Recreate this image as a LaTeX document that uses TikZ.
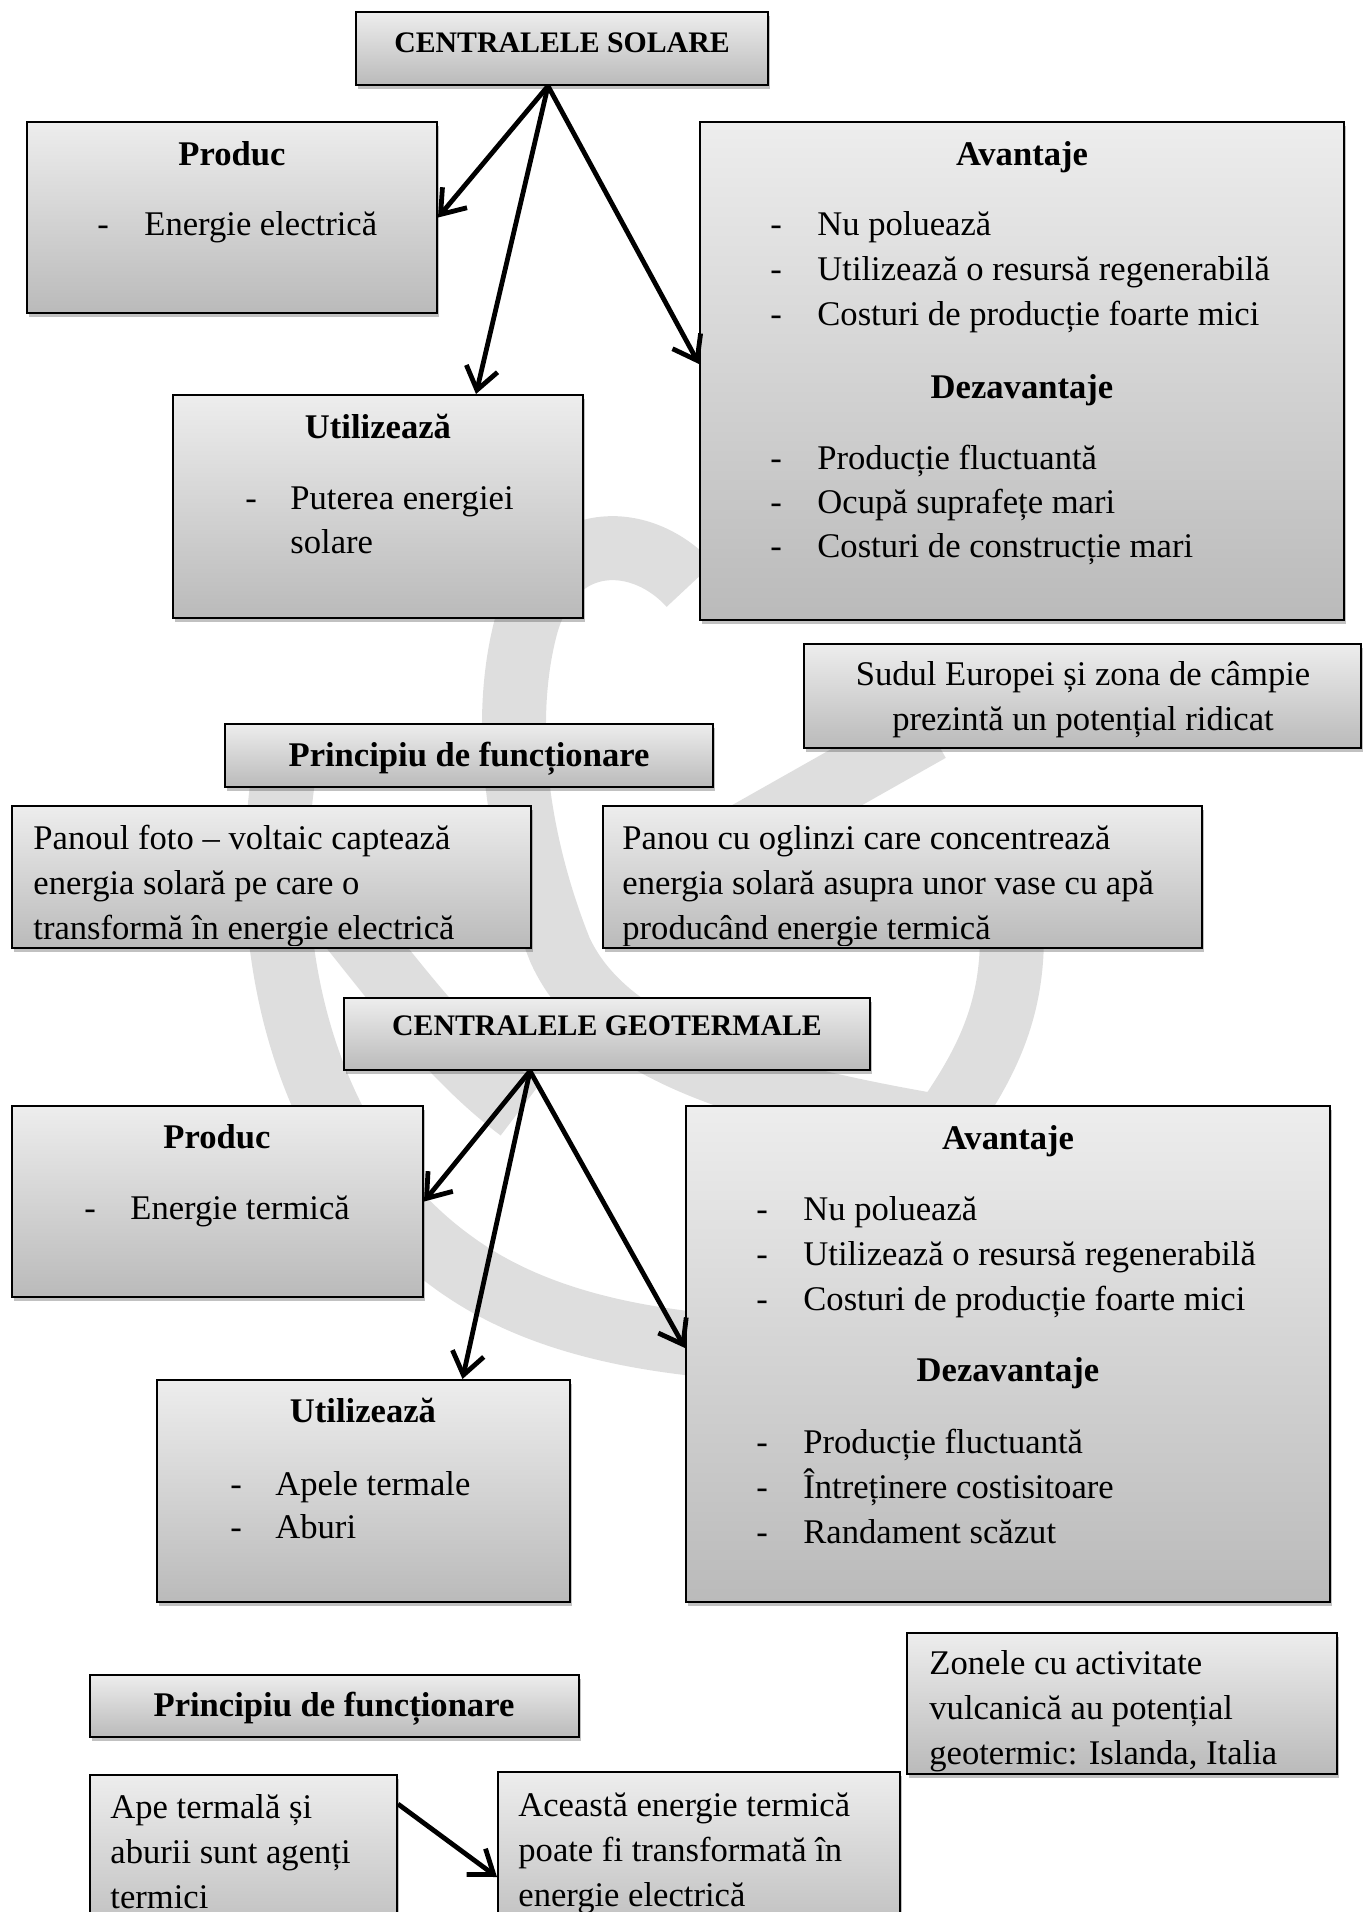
\documentclass[tikz,border=0pt]{standalone}
\usepackage{fontspec}
\setmainfont{Liberation Serif}
\usetikzlibrary{arrows.meta,positioning,fit,calc,shadows}
\definecolor{wmGrey}{HTML}{DEDEDE}

\tikzset{
  panel/.style={draw=black, line width=1pt, inner sep=0pt,
    top color=black!7, bottom color=black!27,
    drop shadow={shadow xshift=1.2pt, shadow yshift=-1.8pt, opacity=0.35, fill=black!70}},
  bigtitle/.style={font=\fontsize{14.9}{18}\selectfont\bfseries, anchor=mid, inner sep=0pt, yshift=-1pt},
  head/.style={font=\fontsize{17.3}{21}\selectfont\bfseries, anchor=mid, inner sep=0pt, yshift=-2pt},
  txt/.style={font=\fontsize{17.3}{21}\selectfont, anchor=mid west, inner sep=0pt, yshift=-2pt},
  ctxt/.style={txt, anchor=mid},
  link/.style={line width=2.4pt, -{Straight Barb[length=11pt,width=16pt]}},
}

\begin{document}
\begin{tikzpicture}[x=0.5pt,y=-0.5pt]
\useasboundingbox (0,0) rectangle (1371,1912);

% watermark behind everything
\begin{scope}[wmGrey, line width=32pt]
\draw (690,585) .. controls (640,530) and (550,530) .. (525,630)
      .. controls (500,730) and (520,850) .. (560,950)
      .. controls (610,1060) and (780,1100) .. (960,1130);
\draw (290,740) .. controls (250,930) and (300,1150) .. (450,1260)
      .. controls (530,1320) and (640,1345) .. (780,1350);
\draw (700,860) -- (930,730);
\draw (1010,900) .. controls (1020,1000) and (990,1060) .. (940,1130);
\draw (320,890) .. controls (380,960) and (440,1050) .. (520,1110);
\end{scope}

% --- centralele solare
\node[panel, fit={(356,12) (768,85)}] (solS) {};
\node[panel, fit={(27,122) (437,313)}] (prodS) {};
\node[panel, fit={(700,122) (1344,620)}] (avS) {};
\node[panel, fit={(173,395) (583,618)}] (utilS) {};
\node[panel, fit={(804,644) (1361,748)}] (sudS) {};
\node[panel, fit={(225,724) (713,787)}] (prinS) {};
\node[panel, fit={(12,806) (531,948)}] (fotoS) {};
\node[panel, fit={(603,806) (1202,948)}] (oglS) {};

\node[bigtitle] (solSt) at (562,46) {CENTRALELE SOLARE};
\node[head] (prodSh) at (232,157) {Produc};
\node[txt] (prodSd) at (97,227) {-};
\node[txt] (prodSa) at (144,227) {Energie electrică};

\node[head] (avSh) at (1022,157) {Avantaje};
\foreach \t [count=\i] in {Nu poluează, Utilizează o resursă regenerabilă, Costuri de producție foarte mici} {
  \node[txt] (avSd\i) at (770,182+45*\i) {-};
  \node[txt] (avSa\i) at (817,182+45*\i) {\t};
}
\node[head] (dzSh) at (1022,390) {Dezavantaje};
\foreach \t [count=\i] in {Producție fluctuantă, Ocupă suprafețe mari, Costuri de construcție mari} {
  \node[txt] (dzSd\i) at (770,417+44*\i) {-};
  \node[txt] (dzSa\i) at (817,417+44*\i) {\t};
}

\node[head] (utilSh) at (378,430) {Utilizează};
\node[txt] (utilSd) at (245,501) {-};
\node[txt] (utilSa) at (290,501) {Puterea energiei};
\node[txt] (utilSb) at (290,545) {solare};

\node[ctxt] (sudSa) at (1083,677) {Sudul Europei și zona de câmpie};
\node[ctxt] (sudSb) at (1083,722) {prezintă un potențial ridicat};

\node[head] (prinSh) at (469,758) {Principiu de funcționare};

\begin{scope}
\clip (fotoS.north west) rectangle ($(fotoS.south east)+(0,-4)$);
\foreach \t [count=\i] in {Panoul foto – voltaic captează, energia solară pe care o, transformă în energie electrică}
  \node[txt] (fotoS\i) at (33,796+45*\i) {\t};
\end{scope}
\begin{scope}
\clip (oglS.north west) rectangle ($(oglS.south east)+(0,-4)$);
\foreach \t [count=\i] in {Panou cu oglinzi care concentrează, energia solară asupra unor vase cu apă, producând energie termică}
  \node[txt] (oglS\i) at (622,796+45*\i) {\t};
\end{scope}

\draw[link] ($(solS.south)+(-14,0)$) -- (prodS.east);
\draw[link] ($(solS.south)+(-14,0)$) -- ($(utilS.north)+(98,0)$);
\draw[link] ($(solS.south)+(-14,0)$) -- ($(avS.west)+(0,-7)$);

% --- centralele geotermale
\node[panel, fit={(344,998) (870,1070)}] (geoT) {};
\node[panel, fit={(12,1106) (423,1297)}] (prodG) {};
\node[panel, fit={(686,1106) (1330,1602)}] (avG) {};
\node[panel, fit={(157,1380) (570,1602)}] (utilG) {};
\node[panel, fit={(907,1633) (1337,1774)}] (zonG) {};
\node[panel, fit={(90,1675) (579,1737)}] (prinG) {};
\node[panel, fit={(90,1775) (397,1950)}] (apeG) {};
\node[panel, fit={(498,1772) (900,1950)}] (aceG) {};

\node[bigtitle] (geoTt) at (607,1029) {CENTRALELE GEOTERMALE};
\node[head] (prodGh) at (217,1140) {Produc};
\node[txt] (prodGd) at (84,1211) {-};
\node[txt] (prodGa) at (130,1211) {Energie termică};

\node[head] (avGh) at (1008,1141) {Avantaje};
\foreach \t [count=\i] in {Nu poluează, Utilizează o resursă regenerabilă, Costuri de producție foarte mici} {
  \node[txt] (avGd\i) at (756,1167+45*\i) {-};
  \node[txt] (avGa\i) at (803,1167+45*\i) {\t};
}
\node[head] (dzGh) at (1008,1373) {Dezavantaje};
\foreach \t [count=\i] in {Producție fluctuantă, Întreținere costisitoare, Randament scăzut} {
  \node[txt] (dzGd\i) at (756,1400+45*\i) {-};
  \node[txt] (dzGa\i) at (803,1400+45*\i) {\t};
}

\node[head] (utilGh) at (363,1414) {Utilizează};
\foreach \t [count=\i] in {Apele termale, Aburi} {
  \node[txt] (utilGd\i) at (230,1444+43*\i) {-};
  \node[txt] (utilGa\i) at (275,1444+43*\i) {\t};
}

\begin{scope}
\clip (zonG.north west) rectangle ($(zonG.south east)+(0,-4)$);
\foreach \t [count=\i] in {Zonele cu activitate, vulcanică au potențial, {geotermic: Islanda, Italia}}
  \node[txt] (zonG\i) at (929,1621+45*\i) {\t};
\end{scope}

\node[head] (prinGh) at (334,1708) {Principiu de funcționare};

\foreach \t [count=\i] in {Ape termală și, aburii sunt agenți, termici}
  \node[txt] (apeG\i) at (110,1765+45*\i) {\t};
\foreach \t [count=\i] in {Această energie termică, poate fi transformată în, energie electrică}
  \node[txt] (aceG\i) at (518,1763+45*\i) {\t};

\draw[link] ($(geoT.south)+(-77,0)$) -- (prodG.east);
\draw[link] ($(geoT.south)+(-77,0)$) -- ($(utilG.north)+(99,0)$);
\draw[link] ($(geoT.south)+(-77,0)$) -- ($(avG.west)+(0,-6)$);
\draw[link] ($(apeG.north east)+(0,30)$) -- ($(aceG.north west)+(0,106)$);
\end{tikzpicture}
\end{document}
